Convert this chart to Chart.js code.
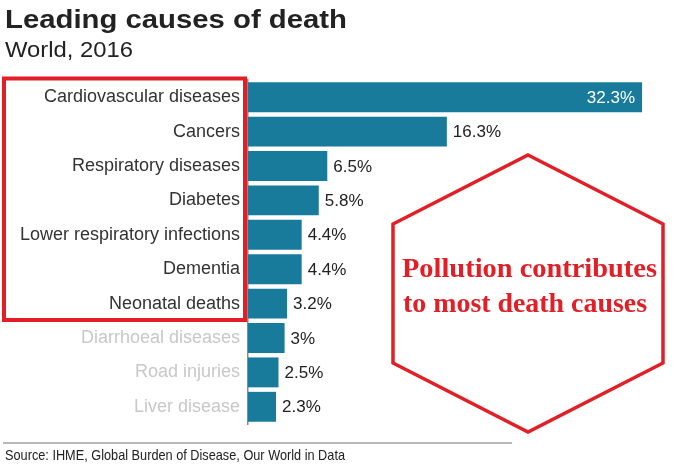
<!DOCTYPE html>
<html>
<head>
<meta charset="utf-8">
<script src="https://cdn.jsdelivr.net/npm/chart.js@4"></script>
<style>
  body { margin: 0; background: #fff; }
  canvas { display: block; }
</style>
</head>
<body>
<canvas id="death-chart" width="675" height="472"></canvas>
<script>
// data
const causes = ["Cardiovascular diseases", "Cancers", "Respiratory diseases", "Diabetes",
  "Lower respiratory infections", "Dementia", "Neonatal deaths", "Diarrhoeal diseases",
  "Road injuries", "Liver disease"];
const shares = [32.3, 16.3, 6.5, 5.8, 4.4, 4.4, 3.2, 3, 2.5, 2.3];
const shareLabels = ["32.3%", "16.3%", "6.5%", "5.8%", "4.4%", "4.4%", "3.2%", "3%", "2.5%", "2.3%"];
const highlighted = 7; // first seven labels are dark, rest greyed out

const teal = '#187b9b';
const red = '#e21f26';

// draw text stretched to a given width (the reference fonts are wider)
function fitText(ctx, text, x, y, width) {
    const w = ctx.measureText(text).width;
    ctx.save();
    ctx.translate(x, y);
    ctx.scale(width / w, 1);
    ctx.fillText(text, 0, 0);
    ctx.restore();
}

const decorations = {
    id: 'decorations',
    afterDatasetsDraw(chart) {
        const ctx = chart.ctx;
        const meta = chart.getDatasetMeta(0);
        ctx.save();
        ctx.textBaseline = 'middle';
        meta.data.forEach((bar, i) => {
            ctx.font = '17px "Liberation Sans", Arial, sans-serif';
            if (i === 0) {
                ctx.fillStyle = '#ffffff';
                ctx.textAlign = 'right';
                ctx.fillText(shareLabels[i], bar.x - 7, bar.y + 1);
            } else {
                ctx.fillStyle = '#222222';
                ctx.textAlign = 'left';
                ctx.fillText(shareLabels[i], bar.x + 6, bar.y + 1);
            }
        });
        ctx.restore();
    },
    afterDraw(chart) {
        const ctx = chart.ctx;
        ctx.save();
        // title + subtitle
        ctx.fillStyle = '#222222';
        ctx.textAlign = 'left';
        ctx.textBaseline = 'alphabetic';
        ctx.font = 'bold 25px "Liberation Sans", Arial, sans-serif';
        fitText(ctx, "Leading causes of death", 5, 28, 342);
        ctx.font = '22px "Liberation Sans", Arial, sans-serif';
        fitText(ctx, "World, 2016", 5, 57, 128);

        // red box around the labels
        ctx.strokeStyle = red;
        ctx.lineWidth = 4;
        ctx.strokeRect(4, 78.5, 241, 241.5);

        // hexagon
        ctx.lineWidth = 3.5;
        ctx.lineJoin = 'miter';
        ctx.beginPath();
        ctx.moveTo(528, 155);
        ctx.lineTo(663, 224);
        ctx.lineTo(663, 363);
        ctx.lineTo(528, 432);
        ctx.lineTo(393, 363);
        ctx.lineTo(393, 224);
        ctx.closePath();
        ctx.stroke();

        ctx.fillStyle = red;
        ctx.font = 'bold 28px "Liberation Serif", "Times New Roman", serif';
        fitText(ctx, "Pollution contributes", 402, 277, 255);
        fitText(ctx, "to most death causes", 403, 312, 244);

        // source
        ctx.strokeStyle = '#a0a0a0';
        ctx.lineWidth = 1.5;
        ctx.beginPath();
        ctx.moveTo(3, 443);
        ctx.lineTo(512, 443);
        ctx.stroke();
        ctx.fillStyle = '#222222';
        ctx.font = '15px "Liberation Sans", Arial, sans-serif';
        fitText(ctx, "Source: IHME, Global Burden of Disease, Our World in Data", 5, 460, 340);
        ctx.restore();
    }
};

new Chart(document.getElementById("death-chart"), {
    type: 'bar',
    data: {
        labels: causes,
        datasets: [{
            data: shares,
            backgroundColor: teal,
            borderWidth: 0,
            barPercentage: 0.87,
            categoryPercentage: 1
        }]
    },
    options: {
        indexAxis: 'y',
        responsive: false,
        animation: false,
        layout: {
            padding: { top: 80, bottom: 48, left: 0, right: 0 }
        },
        plugins: {
            legend: { display: false },
            tooltip: { enabled: false }
        },
        scales: {
            x: {
                display: false,
                min: 0,
                max: 35
            },
            y: {
                afterFit(scale) {
                    scale.width = 248;
                },
                grid: { display: false, drawTicks: false },
                border: { display: true, color: '#8a8a8a', width: 1.5 },
                ticks: {
                    padding: 8,
                    font: { family: '"Liberation Sans", Arial, sans-serif', size: 18 },
                    color: (c) => c.index < highlighted ? '#333333' : '#c8c8c8'
                }
            }
        }
    },
    plugins: [decorations]
});
</script>
</body>
</html>
